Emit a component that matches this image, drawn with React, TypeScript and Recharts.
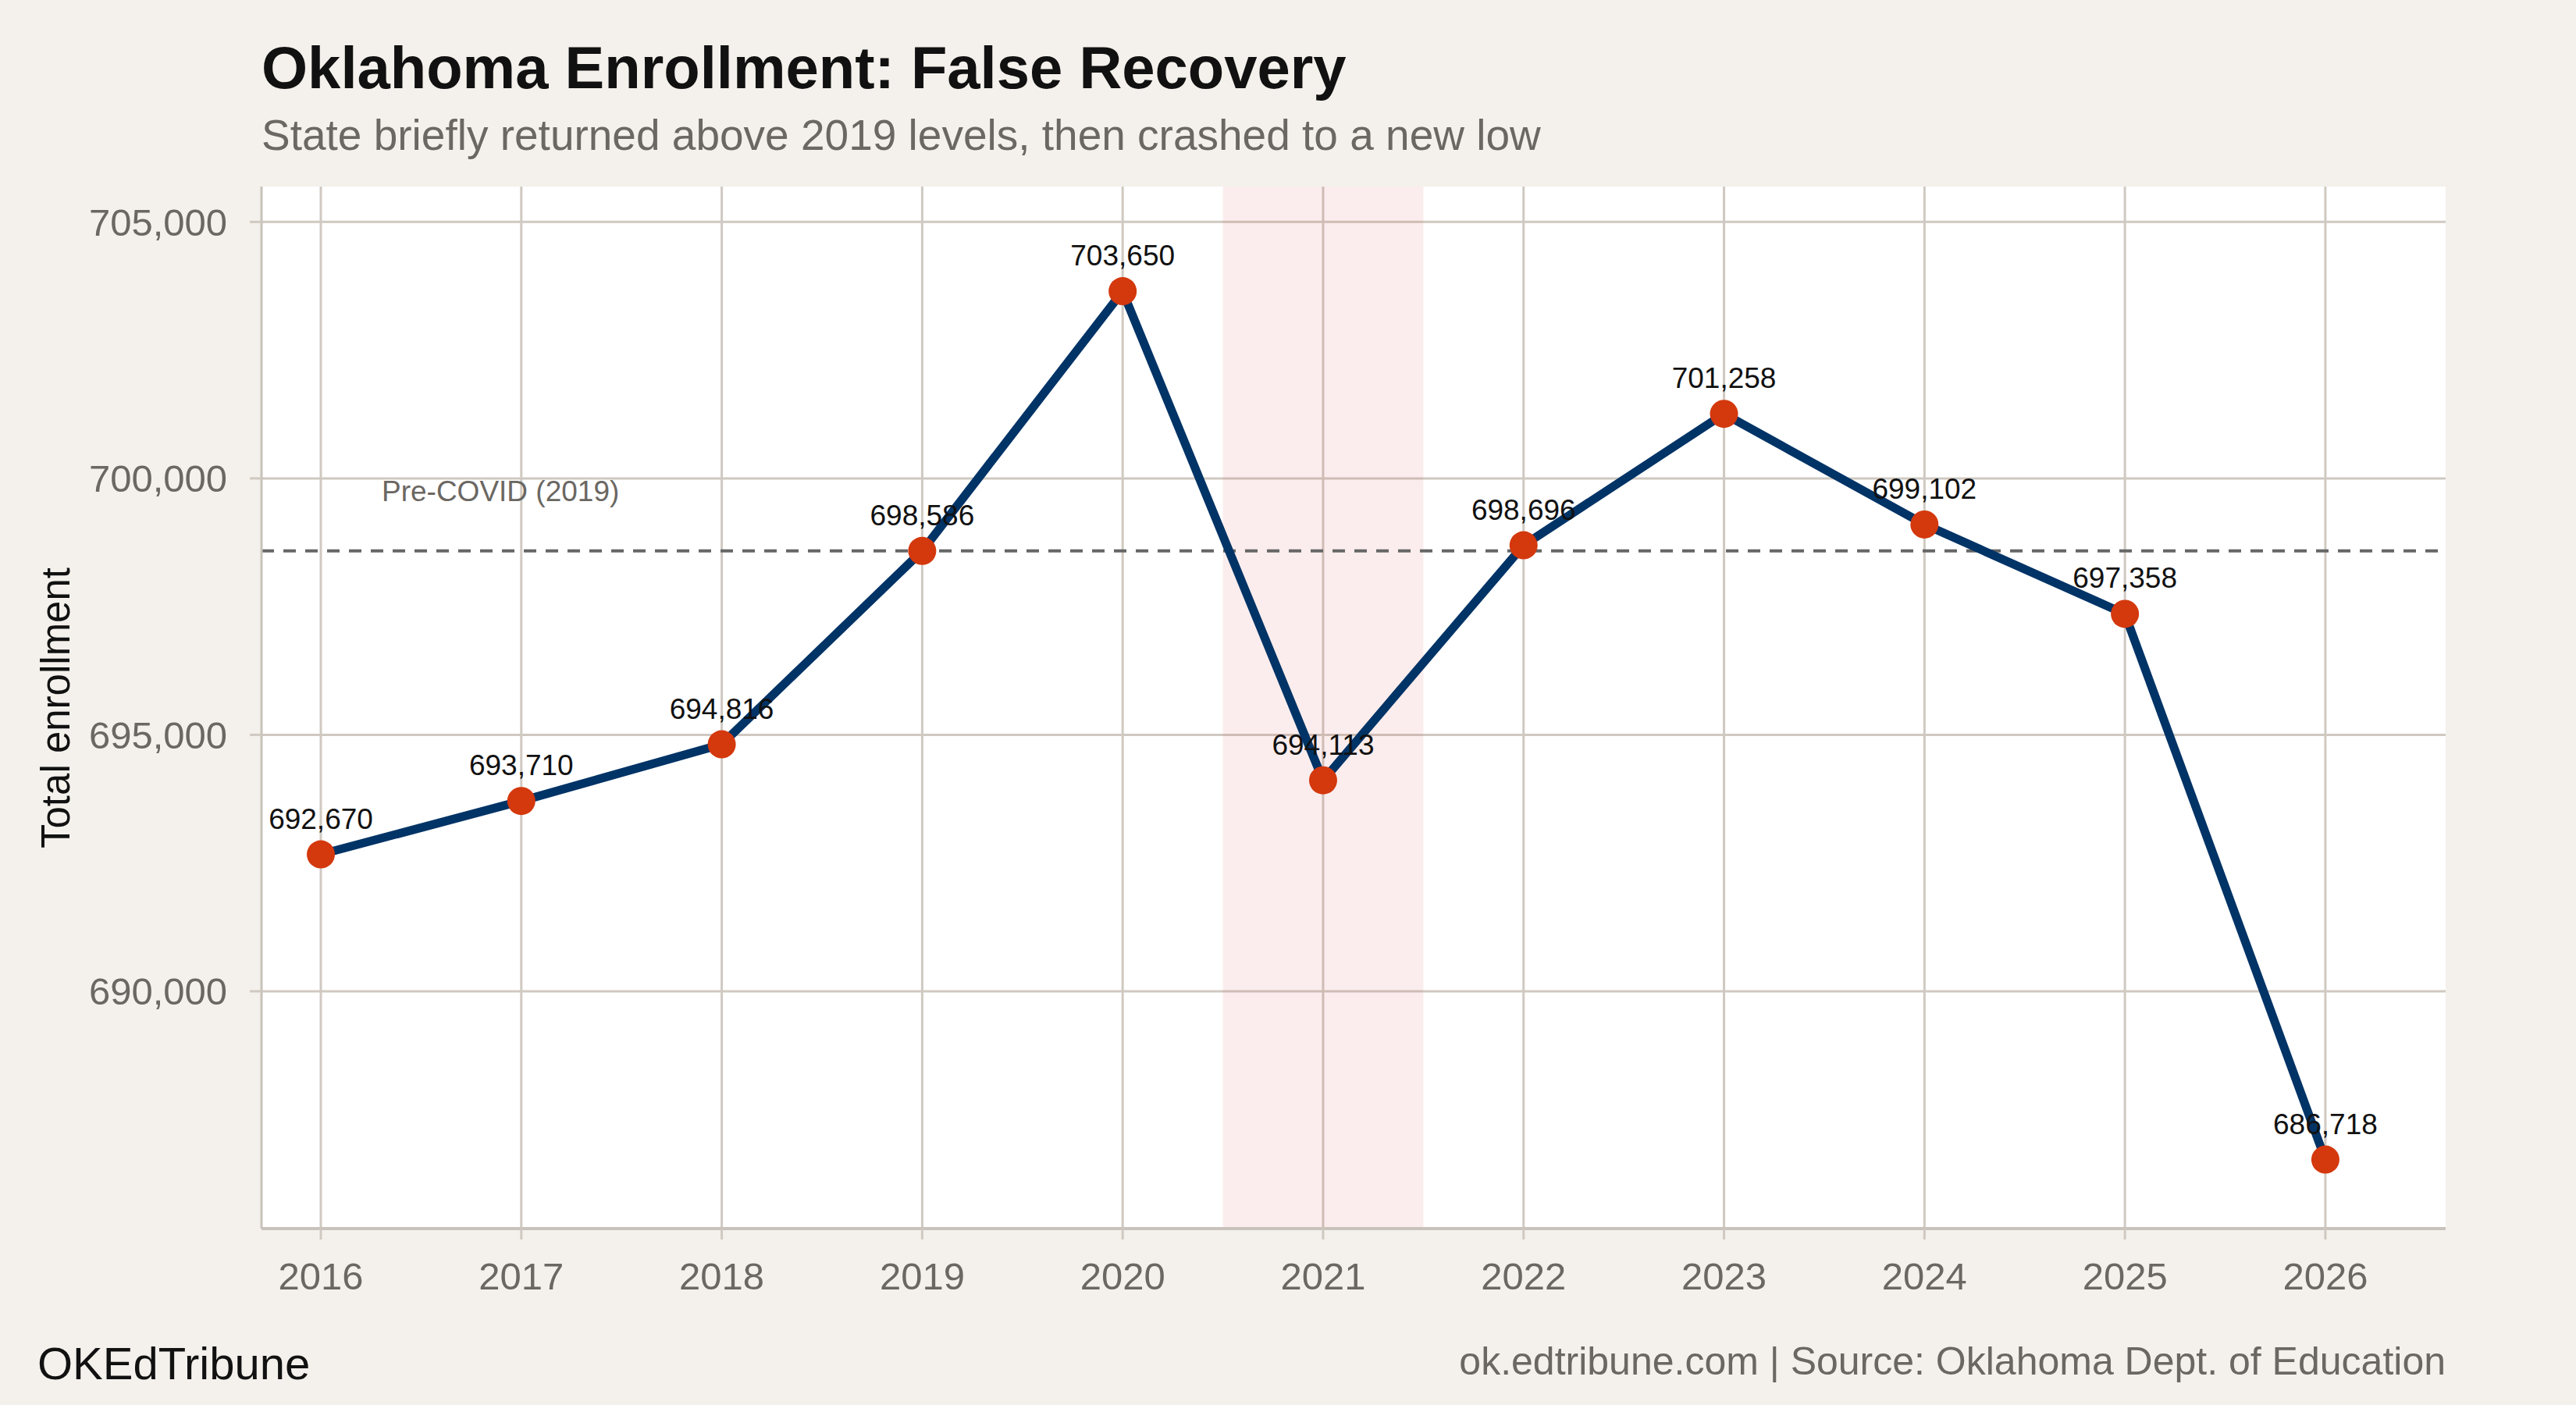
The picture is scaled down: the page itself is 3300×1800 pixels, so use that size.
import React from "react";
import {
  LineChart,
  Line,
  XAxis,
  YAxis,
  CartesianGrid,
  ReferenceLine,
  ReferenceArea,
  LabelList,
} from "recharts";

const years = [2016, 2017, 2018, 2019, 2020, 2021, 2022, 2023, 2024, 2025, 2026];
const enrollment = [
  692670, 693710, 694816, 698586, 703650, 694113, 698696, 701258, 699102, 697358, 686718,
];
const yTicks = [690000, 695000, 700000, 705000];
const preCovid = 698586;
const covidYears = [2020.5, 2021.5];

const data = years.map((year, i) => ({ year, enrollment: enrollment[i] }));

const FONT = '"Liberation Sans", Arial, Helvetica, sans-serif';
const BG = "#f4f1ec";
const GRID = "#cfc9c1";
const AXIS = "#c8c2ba";
const GRAY = "#6b6762";

const fmt = (v: any) => Number(v).toLocaleString("en-US");

const PreCovidLabel = (props: any) => {
  const vb = props.viewBox || {};
  return (
    <text
      x={vb.x + 154}
      y={vb.y - 64}
      fontSize={37}
      fill={GRAY}
      fontFamily={FONT}
    >
      Pre-COVID (2019)
    </text>
  );
};

export default function App() {
  return (
    <div
      style={{
        position: "absolute",
        left: 0,
        top: 0,
        width: 3300,
        height: 1800,
        background: BG,
        fontFamily: FONT,
        overflow: "hidden",
      }}
    >
      {/* white panel behind the plot area */}
      <div
        style={{
          position: "absolute",
          left: 335,
          top: 239,
          width: 3133 - 335,
          height: 1574 - 239,
          background: "#ffffff",
        }}
      />
      <div style={{ position: "absolute", left: 0, top: 0 }}>
        <LineChart
          width={3300}
          height={1800}
          data={data}
          margin={{ top: 239, right: 167, left: 0, bottom: 0 }}
        >
          <CartesianGrid stroke={GRID} strokeWidth={3} syncWithTicks />
          <ReferenceArea
            x1={covidYears[0]}
            x2={covidYears[1]}
            fill="#d9534f"
            fillOpacity={0.1}
            stroke="none"
            ifOverflow="visible"
          />
          <XAxis
            dataKey="year"
            type="number"
            domain={[2015.704, 2026.6]}
            ticks={years}
            height={226}
            tickSize={14}
            tickMargin={29}
            stroke={AXIS}
            strokeWidth={4}
            tick={{ fontSize: 49, fill: GRAY, fontFamily: FONT }}
            tickLine={{ stroke: GRID, strokeWidth: 3 }}
            allowDataOverflow
          />
          <YAxis
            type="number"
            domain={[685373, 705690]}
            ticks={yTicks}
            width={335}
            tickSize={15}
            tickMargin={29}
            stroke={AXIS}
            strokeWidth={3}
            tickFormatter={fmt}
            tick={{ fontSize: 49, fill: GRAY, fontFamily: FONT }}
            tickLine={{ stroke: GRID, strokeWidth: 3 }}
            allowDataOverflow
          />
          <ReferenceLine
            y={preCovid}
            stroke="#666666"
            strokeWidth={4}
            strokeDasharray="16 12"
            label={PreCovidLabel}
          />
          <Line
            dataKey="enrollment"
            stroke="none"
            dot={false}
            activeDot={false}
            isAnimationActive={false}
          >
            <LabelList
              dataKey="enrollment"
              position="top"
              offset={33}
              formatter={fmt}
              fontSize={37}
              fill="#111111"
              fontFamily={FONT}
            />
          </Line>
          <Line
            dataKey="enrollment"
            stroke="#003366"
            strokeWidth={11}
            dot={{ r: 18, fill: "#d4380d", stroke: "none", fillOpacity: 1 }}
            activeDot={false}
            isAnimationActive={false}
          />
        </LineChart>
      </div>
      <svg
        width={3300}
        height={1800}
        style={{ position: "absolute", left: 0, top: 0, pointerEvents: "none" }}
      >
        <text x={335} y={113} fontSize={76} fontWeight="bold" fill="#111111" fontFamily={FONT}>
          Oklahoma Enrollment: False Recovery
        </text>
        <text x={335} y={192} fontSize={55} fill={GRAY} fontFamily={FONT}>
          State briefly returned above 2019 levels, then crashed to a new low
        </text>
        <text
          x={89}
          y={907}
          fontSize={51}
          fill="#111111"
          fontFamily={FONT}
          textAnchor="middle"
          transform="rotate(-90 89 907)"
        >
          Total enrollment
        </text>
        <text x={48} y={1767} fontSize={58} fill="#111111" fontFamily={FONT}>
          OKEdTribune
        </text>
        <text x={3133} y={1761} fontSize={50} fill={GRAY} fontFamily={FONT} textAnchor="end">
          ok.edtribune.com | Source: Oklahoma Dept. of Education
        </text>
      </svg>
    </div>
  );
}
